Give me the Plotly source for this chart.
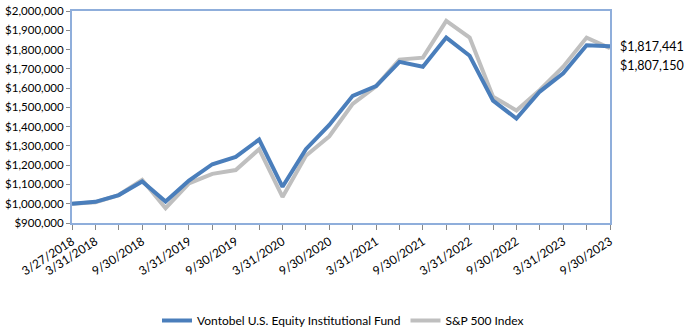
import plotly.graph_objects as go

dates = ["3/27/2018", "3/31/2018", "6/30/2018", "9/30/2018", "12/31/2018",
         "3/31/2019", "6/30/2019", "9/30/2019", "12/31/2019",
         "3/31/2020", "6/30/2020", "9/30/2020", "12/31/2020",
         "3/31/2021", "6/30/2021", "9/30/2021", "12/31/2021",
         "3/31/2022", "6/30/2022", "9/30/2022", "12/31/2022",
         "3/31/2023", "6/30/2023", "9/30/2023"]

fund = [1000000, 1010000, 1045000, 1115000, 1011000,
        1120000, 1205000, 1243000, 1333000,
        1088000, 1283000, 1409000, 1560000,
        1610000, 1736000, 1711000, 1862000,
        1768000, 1535000, 1442000, 1582000,
        1677000, 1822000, 1817441]

sp500 = [1000000, 1008000, 1045000, 1124000, 977000,
         1106000, 1155000, 1175000, 1283000,
         1035000, 1249000, 1350000, 1518000,
         1610000, 1748000, 1758000, 1949000,
         1862000, 1555000, 1484000, 1590000,
         1711000, 1862000, 1807150]

tick_labels = [d if (i == 0 or i % 2 == 1) else "" for i, d in enumerate(dates)]
y_ticks = list(range(900000, 2000001, 100000))

FONT = "Lato, 'Noto Sans', sans-serif"
BLUE = "#4A7EBB"
GRAY = "#BFBFBF"
BORDER = "#8FAEDB"

fig = go.Figure()
fig.add_trace(go.Scatter(x=dates, y=sp500, mode="lines", name="S&P 500 Index",
                         line=dict(color=GRAY, width=4)))
fig.add_trace(go.Scatter(x=dates, y=fund, mode="lines", name="Vontobel U.S. Equity Institutional Fund",
                         line=dict(color=BLUE, width=4)))

fig.add_annotation(x=1, xref="paper", y=fund[-1], yref="y", xanchor="left", yanchor="middle",
                   xshift=8, text="$1,817,441", showarrow=False,
                   font=dict(family=FONT, size=12.5, color="#000"))
fig.add_annotation(x=1, xref="paper", y=fund[-1], yref="y", xanchor="left", yanchor="middle",
                   xshift=8, yshift=-19, text="$1,807,150", showarrow=False,
                   font=dict(family=FONT, size=12.5, color="#000"))

fig.update_layout(
    width=686, height=335,
    margin=dict(l=72, r=76, t=4, b=112),
    paper_bgcolor="white", plot_bgcolor="white",
    font=dict(family=FONT, size=11.5, color="#000"),
    showlegend=True,
    legend=dict(orientation="h", xref="container", yref="container", x=0.5, xanchor="center",
                y=-0.045, yanchor="bottom", font=dict(family=FONT, size=12, color="#000"),
                traceorder="reversed", itemwidth=30),
    xaxis=dict(type="category", range=[0, len(dates) - 1],
               tickmode="array", tickvals=dates, ticktext=tick_labels, tickangle=-33,
               showgrid=False, showline=True, linecolor=BORDER, linewidth=2, mirror=True,
               ticks="outside", ticklen=5, tickcolor="#888", tickfont=dict(size=12)),
    yaxis=dict(range=[900000, 2000000], tickmode="array", tickvals=y_ticks, tickformat="$,.0f",
               ticklabeloverflow="allow",
               showgrid=False, zeroline=False, showline=True, linecolor=BORDER, linewidth=2, mirror=True,
               ticks="outside", ticklen=4, tickcolor="#888", tickfont=dict(size=11.5)),
)

fig.write_html("out.html")
